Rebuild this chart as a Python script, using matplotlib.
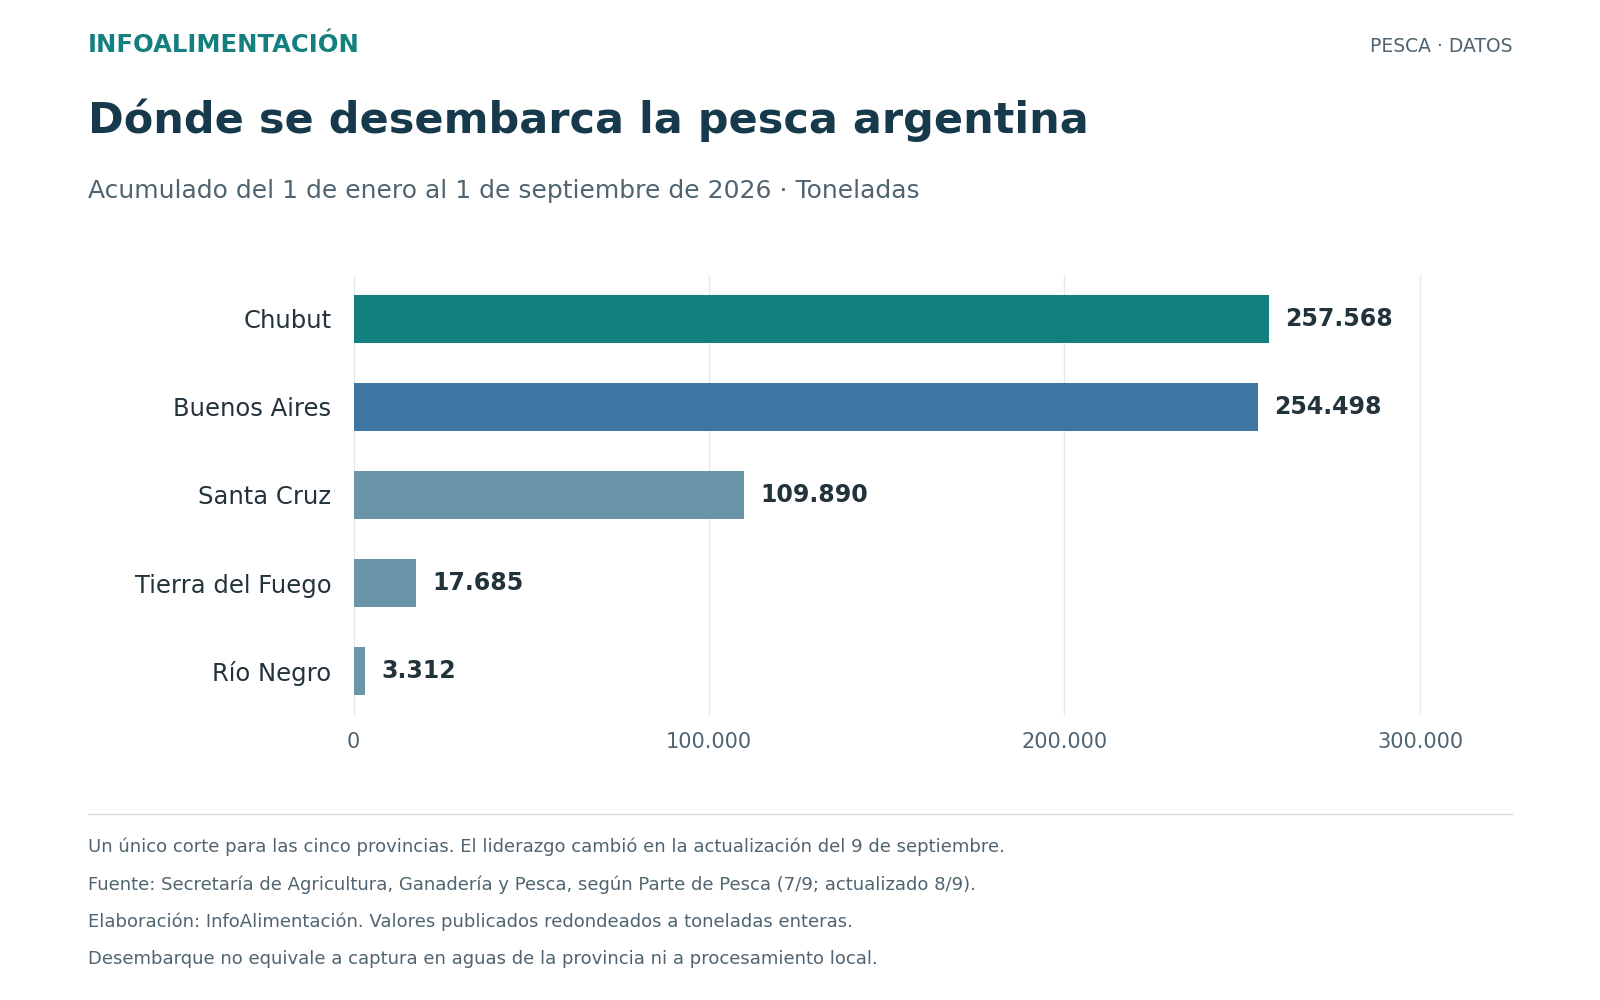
import matplotlib.pyplot as plt

# data
provincias = ['Chubut', 'Buenos Aires', 'Santa Cruz', 'Tierra del Fuego', 'Río Negro']
toneladas = [257568, 254498, 109890, 17685, 3312]
colores = ['#147f7f', '#3e76a3', '#6a94a8', '#6a94a8', '#6a94a8']
ticks = [0, 100000, 200000, 300000]
notas = [
    'Un único corte para las cinco provincias. El liderazgo cambió en la actualización del 9 de septiembre.',
    'Fuente: Secretaría de Agricultura, Ganadería y Pesca, según Parte de Pesca (7/9; actualizado 8/9).',
    'Elaboración: InfoAlimentación. Valores publicados redondeados a toneladas enteras.',
    'Desembarque no equivale a captura en aguas de la provincia ni a procesamiento local.',
]

def miles(v):
    return f'{v:,}'.replace(',', '.')

fig = plt.figure(figsize=(16, 10), dpi=100)
ax = fig.add_axes([0.221, 0.285, 0.722, 0.44])

y = list(range(len(provincias)))
ax.barh(y, toneladas, height=0.54, color=colores, zorder=2)
for yi, v in zip(y, toneladas):
    ax.text(v + 4500, yi, miles(v), va='center', ha='left', fontsize=17,
            fontweight='bold', color='#22333b')

ax.set_ylim(len(provincias) - 0.5, -0.5)
ax.set_xlim(0, 325000)
ax.set_yticks(y)
ax.set_yticklabels(provincias, fontsize=17.5, color='#22333b')
ax.set_xticks(ticks)
ax.set_xticklabels([miles(t) for t in ticks], fontsize=15, color='#4f6470')
ax.tick_params(length=0, pad=12)
ax.tick_params(axis='y', pad=16)
ax.grid(axis='x', color='#e3eaec', linewidth=1, zorder=0)
for s in ax.spines.values():
    s.set_visible(False)

fig.text(0.055, 0.955, 'INFOALIMENTACIÓN', fontsize=17.5, fontweight='bold', color='#147f7f', va='center')
fig.text(0.945, 0.954, 'PESCA · DATOS', fontsize=13.5, color='#4f6470', va='center', ha='right')
fig.text(0.055, 0.88, 'Dónde se desembarca la pesca argentina', fontsize=31, fontweight='bold',
         color='#163a4c', va='center')
fig.text(0.055, 0.809, 'Acumulado del 1 de enero al 1 de septiembre de 2026 · Toneladas', fontsize=18,
         color='#4f6470', va='center')
fig.add_artist(plt.Line2D([0.055, 0.945], [0.186, 0.186], color='#d5dde0', linewidth=1))
for i, n in enumerate(notas):
    fig.text(0.055, 0.153 - i * 0.0375, n, fontsize=13, color='#4f6470', va='center')

fig.savefig('out.png', dpi=100, facecolor='white')
